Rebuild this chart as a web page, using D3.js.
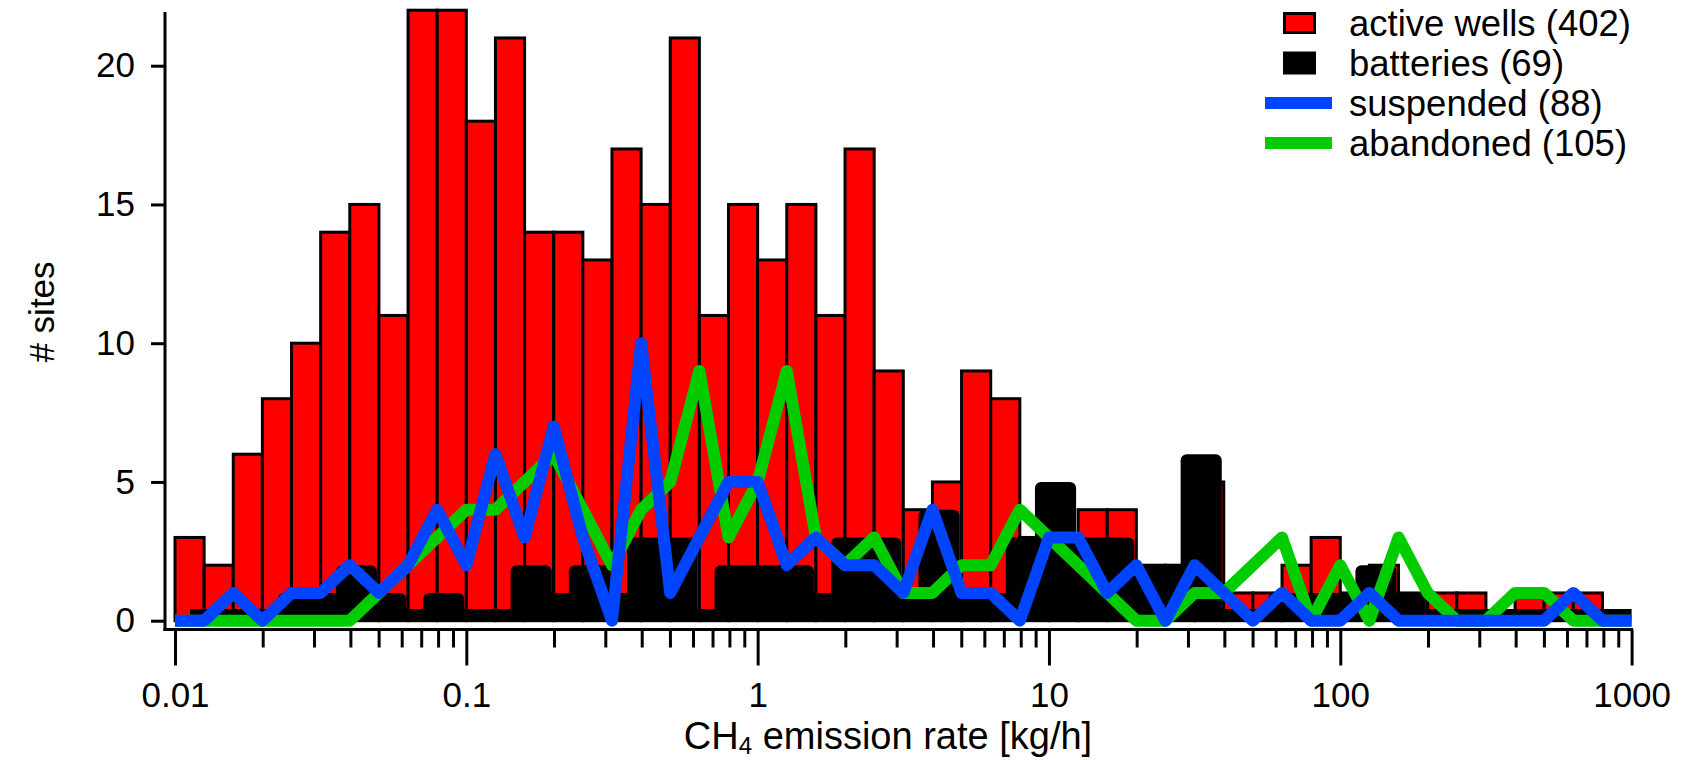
<!DOCTYPE html>
<html><head><meta charset="utf-8">
<script src="https://cdn.jsdelivr.net/npm/d3@7"></script>
<style>
body{margin:0;background:#fff;}
text{font-family:"Liberation Sans", Arial, sans-serif;fill:#000;}
</style>
</head><body>
<svg id="chart" width="1687" height="760"></svg>
<script>
// ---- data ----
// 50 log-spaced bins, 10 per decade, from 0.01 to 1000 kg/h
const binStart = 0.01;
const binsPerDecade = 10;
const nBins = 50;
const binEdges = d3.range(nBins + 1).map(k => binStart * Math.pow(10, k / binsPerDecade));

const activeWells = [3,2,6,8,10,14,15,11,22,22, 18,21,14,14,13,17,15,21,11,15,
                     13,15,11,17,9,4,5,9,8,3, 3,4,4,2,2,5,1,1,2,3,
                     1,2,1,1,1,0,1,1,1,0];
const batteries   = [null,0,0,0,1,1,2,1,0,1, 0,0,2,1,2,1,3,3,0,2,
                     2,2,1,3,3,1,4,1,1,3, 5,3,3,2,2,6,0,0,1,1,
                     1,2,1,0,0,0,0,0,0,0];
// line series, one value per bin edge
const suspended   = [0,0,1,0,1,1,2,1,2,4, 2,6,3,7,3,0,10,1,3,5,
                     5,2,3,2,2,1,4,1,1,0, 3,3,1,2,0,2,1,0,1,0,
                     0,1,0,0,0,0,0,0,1,0, 0];
const abandoned   = [0,0,0,0,0,0,0,1,2,3, 4,4,5,6,4,2,4,5,9,3,
                     5,9,3,2,3,1,1,2,2,4, 3,2,1,0,0,1,1,2,3,0,
                     2,0,3,1,0,0,1,1,0,0, 0];

const yTicks = [0,5,10,15,20];
const xTicks = [0.01,0.1,1,10,100,1000];
const xTickLabels = ["0.01","0.1","1","10","100","1000"];
const legendLabels = ["active wells (402)","batteries (69)","suspended (88)","abandoned (105)"];

// ---- layout ----
const RED = "#ff0000", BLUE = "#0044ff", GREEN = "#00cc00";
const FONT = '"Liberation Sans", Arial, sans-serif';
const svg = d3.select("#chart");
const x = d3.scaleLog().domain([0.01, 1000]).range([175, 1631.6]);
const y = d3.scaleLinear().domain([0, 20]).range([620.7, 65.7]);
const axisX0 = 165, axisY0 = 629.5, axisTop = 12;

// red bars
svg.append("g").selectAll("rect").data(activeWells.map((v,i)=>({v,i})).filter(d=>d.v>0))
  .join("rect")
  .attr("x", d => x(binEdges[d.i]))
  .attr("width", d => x(binEdges[d.i+1]) - x(binEdges[d.i]))
  .attr("y", d => y(d.v))
  .attr("height", d => y(0) - y(d.v))
  .attr("fill", RED).attr("stroke", "#000").attr("stroke-width", 3);

// batteries (black) : baseline band + rounded bars
const gB = svg.append("g");
const firstB = batteries.findIndex(v => v !== null);
gB.append("rect")
  .attr("x", x(binEdges[firstB]) - 14)
  .attr("width", x(binEdges[nBins]) - (x(binEdges[firstB]) - 14))
  .attr("y", y(0) - 11.7).attr("height", 11.7).attr("fill", "#000");
gB.selectAll("rect.b").data(batteries.map((v,i)=>({v,i})).filter(d=>d.v>0))
  .join("rect").attr("class","b")
  .attr("x", d => x(binEdges[d.i]) - 14)
  .attr("width", d => x(binEdges[d.i+1]) - x(binEdges[d.i]) + 12)
  .attr("y", d => y(d.v))
  .attr("height", d => y(0) - y(d.v))
  .attr("rx", 6).attr("fill", "#000");

// lines
const line = d3.line().x((d,i) => x(binEdges[i])).y(d => y(d));
svg.append("path").datum(abandoned).attr("d", line)
  .attr("fill","none").attr("stroke", GREEN).attr("stroke-width", 12).attr("stroke-linejoin","round");
svg.append("path").datum(suspended).attr("d", line)
  .attr("fill","none").attr("stroke", BLUE).attr("stroke-width", 12).attr("stroke-linejoin","round");

// axes
const gA = svg.append("g").attr("stroke", "#000").attr("stroke-width", 3);
gA.append("line").attr("x1", axisX0).attr("x2", axisX0).attr("y1", axisTop).attr("y2", axisY0 + 1.5);
gA.append("line").attr("x1", axisX0 - 1.5).attr("x2", x(1000) + 1.5).attr("y1", axisY0).attr("y2", axisY0);

const yAxis = d3.axisLeft(y).tickValues(yTicks).tickSize(14).tickSizeOuter(0).tickPadding(16);
const gy = svg.append("g").attr("transform", `translate(${axisX0},0)`).call(yAxis);
gy.select(".domain").remove();
gy.selectAll(".tick line").attr("stroke","#000").attr("stroke-width",3);
gy.selectAll(".tick text").attr("font-size", 35).attr("font-family", FONT);

const minor = [];
for (let e = -2; e < 3; e++) for (let m = 2; m <= 9; m++) minor.push(m * Math.pow(10, e));
const xAxisMinor = d3.axisBottom(x).tickValues(minor).tickSize(18).tickFormat("");
const gxm = svg.append("g").attr("transform", `translate(0,${axisY0})`).call(xAxisMinor);
gxm.select(".domain").remove();
gxm.selectAll(".tick line").attr("stroke","#000").attr("stroke-width",3);

const xAxis = d3.axisBottom(x).tickValues(xTicks).tickSize(36).tickPadding(17)
  .tickFormat((d,i) => xTickLabels[i]);
const gx = svg.append("g").attr("transform", `translate(0,${axisY0})`).call(xAxis);
gx.select(".domain").remove();
gx.selectAll(".tick line").attr("stroke","#000").attr("stroke-width",3);
gx.selectAll(".tick text").attr("font-size", 35).attr("font-family", FONT);

// axis titles
const xt = svg.append("text").attr("x", 888).attr("y", 749).attr("text-anchor","middle").attr("font-size", 38);
xt.append("tspan").text("CH");
xt.append("tspan").text("4").attr("font-size", 24).attr("dy", 5);
xt.append("tspan").text(" emission rate [kg/h]").attr("dy", -5);

svg.append("text").attr("transform", "translate(54,312) rotate(-90)")
  .attr("text-anchor","middle").attr("font-size", 35).text("# sites");

// legend
const lg = svg.append("g");
const rowY = [23, 63, 103, 143];
lg.append("rect").attr("x", 1284.5).attr("y", rowY[0]-9.5).attr("width", 30).attr("height", 19)
  .attr("fill", RED).attr("stroke","#000").attr("stroke-width",3);
lg.append("rect").attr("x", 1283).attr("y", rowY[1]-11.5).attr("width", 33).attr("height", 23).attr("fill","#000");
lg.append("line").attr("x1",1265).attr("x2",1332).attr("y1",rowY[2]).attr("y2",rowY[2]).attr("stroke",BLUE).attr("stroke-width",12);
lg.append("line").attr("x1",1265).attr("x2",1332).attr("y1",rowY[3]).attr("y2",rowY[3]).attr("stroke",GREEN).attr("stroke-width",12);
lg.selectAll("text.l").data(legendLabels).join("text").attr("class","l")
  .attr("x", 1349).attr("y", (d,i) => rowY[i] + 12.5).attr("font-size", 36.5).text(d => d);
</script>
</body></html>
